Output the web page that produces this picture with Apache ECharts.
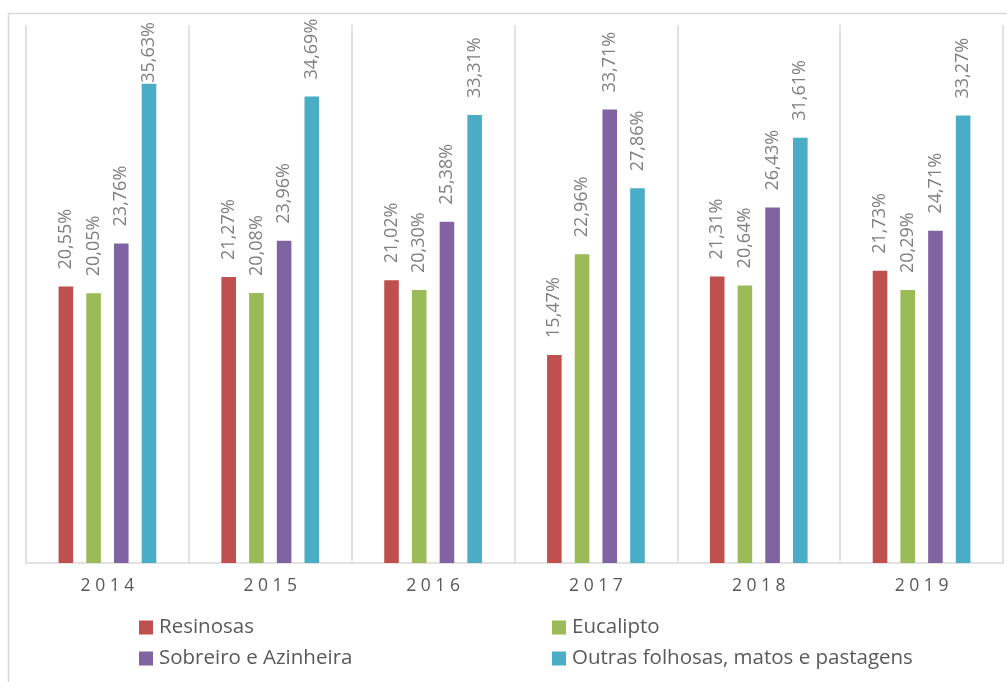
<!DOCTYPE html>
<html>
<head>
<meta charset="utf-8">
<script src="https://cdn.jsdelivr.net/npm/echarts@6/dist/echarts.min.js"></script>
<style>html,body{margin:0;padding:0;background:#fff}#c{width:1007px;height:682px}</style>
</head>
<body>
<div id="c"></div>
<script>
const categories = ['2014', '2015', '2016', '2017', '2018', '2019'];
const seriesNames = ['Resinosas', 'Eucalipto', 'Sobreiro e Azinheira', 'Outras folhosas, matos e pastagens'];
const resinosas = [20.55, 21.27, 21.02, 15.47, 21.31, 21.73];
const eucalipto = [20.05, 20.08, 20.30, 22.96, 20.64, 20.29];
const sobreiro = [23.76, 23.96, 25.38, 33.71, 26.43, 24.71];
const outras = [35.63, 34.69, 33.31, 27.86, 31.61, 33.27];
const colors = ['#C0504D', '#9BBB59', '#8064A2', '#4BACC6'];

const FONT = 'Open Sans';
const allData = [resinosas, eucalipto, sobreiro, outras];

const chart = echarts.init(document.getElementById('c'), null, {renderer: 'canvas'});
const series = allData.map((arr, i) => ({
  name: seriesNames[i],
  type: 'bar',
  barGap: '90%',
  barCategoryGap: '40%',
  itemStyle: {color: colors[i]},
  data: arr.map(v => v > 35 ? {value: v, label: {distance: 1}} : v),
  label: {
    show: true,
    position: 'top',
    rotate: 90,
    align: 'left',
    verticalAlign: 'middle',
    distance: 17,
    color: '#7F7F7F',
    fontFamily: FONT,
    fontSize: 18,
    formatter: p => p.value.toFixed(2).replace('.', ',') + '%'
  }
}));

const legendCommon = {
  orient: 'vertical', top: 612,
  itemWidth: 14, itemHeight: 14, itemGap: 10,
  icon: 'rect',
  textStyle: {color: '#595959', fontFamily: FONT, fontSize: 20.5, lineHeight: 20, padding: [0, 0, 0, 1]}
};

chart.setOption({
  animation: false,
  color: colors,
  grid: {left: 26, right: 4, top: 25, bottom: 119},
  legend: [
    Object.assign({data: [seriesNames[0], seriesNames[2]], left: 134}, legendCommon),
    Object.assign({data: [seriesNames[1], seriesNames[3]], left: 547}, legendCommon)
  ],
  graphic: [{
    type: 'rect',
    shape: {x: 8.5, y: 13.5, width: 1010, height: 700},
    style: {fill: 'none', stroke: '#D9D9D9', lineWidth: 1.5},
    silent: true
  }],
  xAxis: {
    type: 'category',
    data: categories,
    axisLine: {show: true, lineStyle: {color: '#D9D9D9', width: 1.5}},
    axisTick: {show: false},
    splitLine: {show: true, interval: 0, lineStyle: {color: '#D9D9D9', width: 1.5}},
    axisLabel: {
      color: '#595959', fontFamily: FONT, fontSize: 17.5, margin: 14,
      formatter: v => v.split('').join(' ')
    }
  },
  yAxis: {
    type: 'value',
    min: 0, max: 40,
    show: false,
    splitLine: {show: false}
  },
  series: series
});
</script>
</body>
</html>
